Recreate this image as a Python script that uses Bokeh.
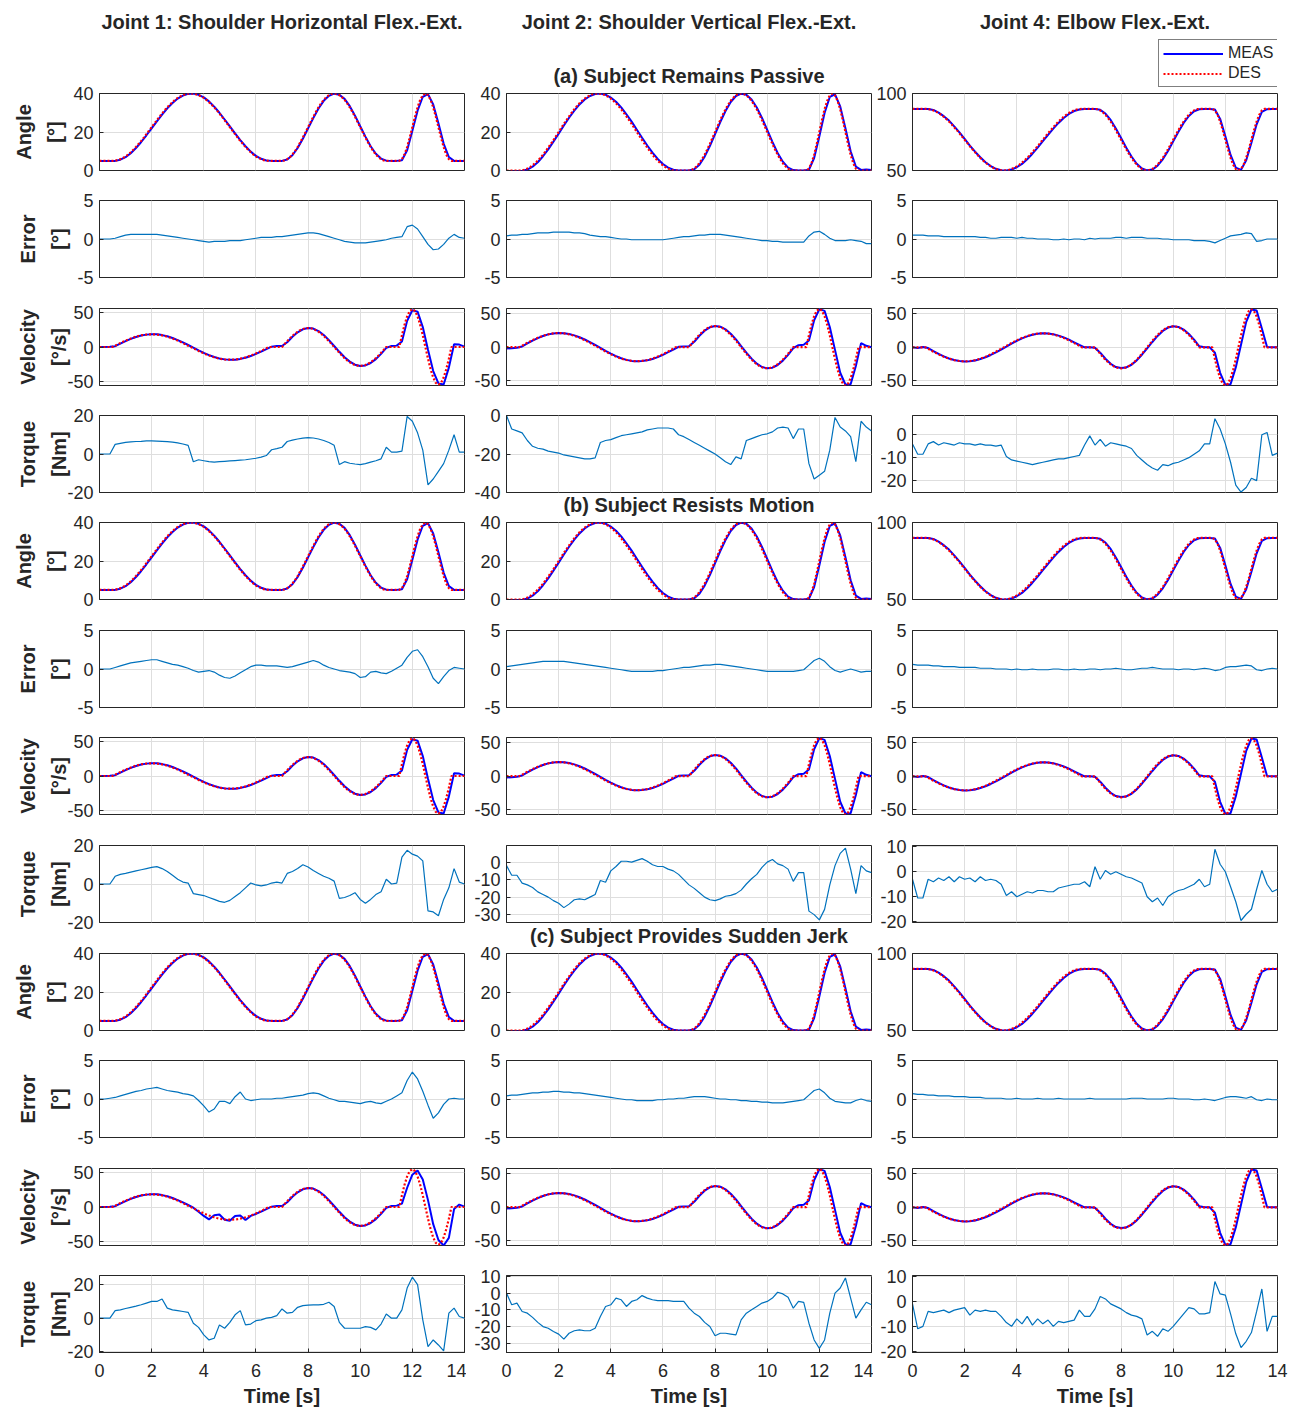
import numpy as np
from bokeh.plotting import figure
from bokeh.layouts import column, row
from bokeh.models import Range1d, FixedTicker, Legend, LegendItem, Title, Label
from bokeh.embed import file_html
from bokeh.resources import INLINE

# ---------------------------------------------------------------- data
# sample times: angle / velocity references every 0.1 s, everything else every 0.2 s
T_FINE = np.round(np.arange(141) * 0.1, 1)
T_COARSE = np.round(np.arange(71) * 0.2, 1)
TIME_TICKS = [0, 2, 4, 6, 8, 10, 12, 14]

JOINT_TITLES = ["Joint 1: Shoulder Horizontal Flex.-Ext.",
                "Joint 2: Shoulder Vertical Flex.-Ext.",
                "Joint 4: Elbow Flex.-Ext."]
CONDITION_TITLES = ["(a) Subject Remains Passive",
                    "(b) Subject Resists Motion",
                    "(c) Subject Provides Sudden Jerk"]
ROW_LABELS = ["Angle\n[°]", "Error\n[°]", "Velocity\n[°/s]", "Torque\n[Nm]"]

# desired joint angles [deg] (0.1 s)
ANG_DES_J1 = [5, 5, 5, 5, 5, 5,
              5.1, 5.4, 5.9, 6.5, 7.3, 8.3, 9.5, 10.8, 12.2, 13.8,
              15.4, 17.1, 18.9, 20.7, 22.5, 24.3, 26.1, 27.9, 29.6, 31.3,
              32.8, 34.2, 35.5, 36.7, 37.7, 38.5, 39.1, 39.6, 39.9, 40.0,
              39.9, 39.6, 39.1, 38.5, 37.7, 36.7, 35.5, 34.2, 32.8, 31.3,
              29.6, 27.9, 26.1, 24.3, 22.5, 20.7, 18.9, 17.1, 15.4, 13.8,
              12.2, 10.8, 9.5, 8.3, 7.3, 6.5, 5.9, 5.4, 5.1, 5.0,
              5, 5, 5, 5, 5,
              5.2, 5.9, 6.9, 8.3, 10.1, 12.2, 14.6, 17.1, 19.8, 22.5,
              25.2, 27.9, 30.4, 32.8, 34.9, 36.7, 38.1, 39.1, 39.8, 40.0,
              39.8, 39.1, 38.1, 36.7, 34.9, 32.8, 30.4, 27.9, 25.2, 22.5,
              19.8, 17.1, 14.6, 12.2, 10.1, 8.3, 6.9, 5.9, 5.2, 5.0,
              5, 5, 5, 5, 5,
              5.9, 8.3, 12.2, 17.1, 22.5, 27.9, 32.8, 36.7, 39.1, 40.0,
              39.1, 36.7, 32.8, 27.9, 22.5, 17.1, 12.2, 8.3, 5.9, 5.0,
              5, 5, 5, 5, 5]
ANG_DES_J2 = [0, 0, 0, 0, 0, 0,
              0.1, 0.4, 1.0, 1.7, 2.7, 3.8, 5.1, 6.6, 8.2, 10.0,
              11.9, 13.8, 15.8, 17.9, 20.0, 22.1, 24.2, 26.2, 28.1, 30.0,
              31.8, 33.4, 34.9, 36.2, 37.3, 38.3, 39.0, 39.6, 39.9, 40.0,
              39.9, 39.6, 39.0, 38.3, 37.3, 36.2, 34.9, 33.4, 31.8, 30.0,
              28.1, 26.2, 24.2, 22.1, 20.0, 17.9, 15.8, 13.8, 11.9, 10.0,
              8.2, 6.6, 5.1, 3.8, 2.7, 1.7, 1.0, 0.4, 0.1, 0.0,
              0, 0, 0, 0, 0,
              0.2, 1.0, 2.2, 3.8, 5.9, 8.2, 10.9, 13.8, 16.9, 20.0,
              23.1, 26.2, 29.1, 31.8, 34.1, 36.2, 37.8, 39.0, 39.8, 40.0,
              39.8, 39.0, 37.8, 36.2, 34.1, 31.8, 29.1, 26.2, 23.1, 20.0,
              16.9, 13.8, 10.9, 8.2, 5.9, 3.8, 2.2, 1.0, 0.2, 0.0,
              0, 0, 0, 0, 0,
              1.0, 3.8, 8.2, 13.8, 20.0, 26.2, 31.8, 36.2, 39.0, 40.0,
              39.0, 36.2, 31.8, 26.2, 20.0, 13.8, 8.2, 3.8, 1.0, 0.0,
              0, 0, 0, 0, 0]
ANG_DES_J4 = [90, 90, 90, 90, 90, 90,
              89.9, 89.6, 89.0, 88.3, 87.3, 86.2, 84.9, 83.4, 81.8, 80.0,
              78.1, 76.2, 74.2, 72.1, 70.0, 67.9, 65.8, 63.8, 61.9, 60.0,
              58.2, 56.6, 55.1, 53.8, 52.7, 51.7, 51.0, 50.4, 50.1, 50.0,
              50.1, 50.4, 51.0, 51.7, 52.7, 53.8, 55.1, 56.6, 58.2, 60.0,
              61.9, 63.8, 65.8, 67.9, 70.0, 72.1, 74.2, 76.2, 78.1, 80.0,
              81.8, 83.4, 84.9, 86.2, 87.3, 88.3, 89.0, 89.6, 89.9, 90.0,
              90, 90, 90, 90, 90,
              89.8, 89.0, 87.8, 86.2, 84.1, 81.8, 79.1, 76.2, 73.1, 70.0,
              66.9, 63.8, 60.9, 58.2, 55.9, 53.8, 52.2, 51.0, 50.2, 50.0,
              50.2, 51.0, 52.2, 53.8, 55.9, 58.2, 60.9, 63.8, 66.9, 70.0,
              73.1, 76.2, 79.1, 81.8, 84.1, 86.2, 87.8, 89.0, 89.8, 90.0,
              90, 90, 90, 90, 90,
              89.0, 86.2, 81.8, 76.2, 70.0, 63.8, 58.2, 53.8, 51.0, 50.0,
              51.0, 53.8, 58.2, 63.8, 70.0, 76.2, 81.8, 86.2, 89.0, 90.0,
              90, 90, 90, 90, 90]

# measured joint angles [deg] (0.2 s)
ANG_MEAS_J1 = [5.0, 5.0, 5.0, 5.0, 5.6, 6.9, 9.0, 11.7, 14.8, 18.3,
               21.9, 25.5, 29.0, 32.3, 35.1, 37.4, 38.9, 39.8, 40.0, 39.3,
               38.0, 35.9, 33.2, 30.0, 26.5, 22.9, 19.3, 15.8, 12.6, 9.8,
               7.6, 6.1, 5.2, 5.0, 5.0, 5.0, 5.7, 7.9, 11.7, 16.5,
               21.9, 27.2, 32.2, 36.2, 38.8, 39.9, 39.4, 37.2, 33.4, 28.5,
               23.0, 17.6, 12.6, 8.7, 6.2, 5.1, 5.0, 5.0, 5.3, 10.5,
               20.6, 31.1, 38.3, 39.7, 34.3, 24.5, 14.0, 7.0, 5.0, 5.0,
               5.0]
ANG_MEAS_J2 = [-0.5, -0.5, -0.4, -0.3, 0.5, 2.0, 4.3, 7.4, 11.0, 15.0,
               19.1, 23.4, 27.4, 31.1, 34.3, 36.9, 38.7, 39.7, 40.0, 39.4,
               37.9, 35.7, 32.8, 29.2, 25.4, 21.2, 17.0, 13.0, 9.3, 6.0,
               3.4, 1.5, 0.4, 0.0, 0.0, 0.0, 0.6, 3.0, 7.2, 12.7,
               18.9, 25.2, 30.9, 35.6, 38.7, 39.9, 39.4, 36.9, 32.7, 27.3,
               21.1, 14.9, 9.1, 4.6, 1.5, 0.2, 0.0, 0.0, 0.4, 6.5,
               17.8, 29.9, 38.2, 39.6, 33.3, 22.0, 10.0, 2.0, 0.3, 0.5,
               0.2]
ANG_MEAS_J4 = [90.0, 90.0, 90.0, 90.0, 89.3, 87.6, 85.3, 82.4, 78.7, 74.7,
               70.5, 66.2, 62.2, 58.6, 55.4, 52.9, 51.1, 50.2, 50.0, 50.6,
               52.1, 54.3, 57.3, 60.9, 64.8, 69.0, 73.2, 77.2, 80.9, 84.1,
               86.7, 88.6, 89.6, 90.0, 90.0, 90.0, 89.4, 87.0, 82.8, 77.3,
               71.1, 64.8, 59.1, 54.4, 51.3, 50.1, 50.6, 53.1, 57.3, 62.7,
               68.9, 75.1, 80.9, 85.4, 88.5, 89.8, 90.0, 90.0, 89.6, 83.5,
               72.2, 60.1, 51.8, 50.4, 56.7, 68.0, 80.0, 88.0, 89.8, 90.0,
               90.0]

# desired joint velocities [deg/s] (0.1 s)
VEL_DES_J1 = [0, 0, 0, 0, 0, 0,
              1.9, 3.8, 5.7, 7.5, 9.3, 10.9, 12.4, 13.7, 15.0, 16.0,
              16.9, 17.6, 18.1, 18.4, 18.5, 18.4, 18.1, 17.6, 16.9, 16.0,
              15.0, 13.7, 12.4, 10.9, 9.3, 7.5, 5.7, 3.8, 1.9, 0,
              -1.9, -3.8, -5.7, -7.5, -9.3, -10.9, -12.4, -13.7, -15.0, -16.0,
              -16.9, -17.6, -18.1, -18.4, -18.5, -18.4, -18.1, -17.6, -16.9, -16.0,
              -15.0, -13.7, -12.4, -10.9, -9.3, -7.5, -5.7, -3.8, -1.9, 0,
              0, 0, 0, 0, 0,
              4.3, 8.5, 12.5, 16.2, 19.4, 22.2, 24.5, 26.2, 27.2, 27.5,
              27.2, 26.2, 24.5, 22.2, 19.4, 16.2, 12.5, 8.5, 4.3, 0,
              -4.3, -8.5, -12.5, -16.2, -19.4, -22.2, -24.5, -26.2, -27.2, -27.5,
              -27.2, -26.2, -24.5, -22.2, -19.4, -16.2, -12.5, -8.5, -4.3, 0,
              0, 0, 0, 0, 0,
              17.0, 32.3, 44.5, 52.3, 55.0, 52.3, 44.5, 32.3, 17.0, 0,
              -17.0, -32.3, -44.5, -52.3, -55.0, -52.3, -44.5, -32.3, -17.0, 0,
              0, 0, 0, 0, 0]
VEL_DES_J2 = [0, 0, 0, 0, 0, 0,
              2.2, 4.3, 6.5, 8.5, 10.5, 12.3, 14.0, 15.5, 16.9, 18.1,
              19.1, 19.9, 20.4, 20.8, 20.9, 20.8, 20.4, 19.9, 19.1, 18.1,
              16.9, 15.5, 14.0, 12.3, 10.5, 8.5, 6.5, 4.3, 2.2, 0,
              -2.2, -4.3, -6.5, -8.5, -10.5, -12.3, -14.0, -15.5, -16.9, -18.1,
              -19.1, -19.9, -20.4, -20.8, -20.9, -20.8, -20.4, -19.9, -19.1, -18.1,
              -16.9, -15.5, -14.0, -12.3, -10.5, -8.5, -6.5, -4.3, -2.2, 0,
              0, 0, 0, 0, 0,
              4.9, 9.7, 14.3, 18.5, 22.2, 25.4, 28.0, 29.9, 31.0, 31.4,
              31.0, 29.9, 28.0, 25.4, 22.2, 18.5, 14.3, 9.7, 4.9, 0,
              -4.9, -9.7, -14.3, -18.5, -22.2, -25.4, -28.0, -29.9, -31.0, -31.4,
              -31.0, -29.9, -28.0, -25.4, -22.2, -18.5, -14.3, -9.7, -4.9, 0,
              0, 0, 0, 0, 0,
              17.6, 33.5, 46.1, 54.2, 57.0, 54.2, 46.1, 33.5, 17.6, 0,
              -17.6, -33.5, -46.1, -54.2, -57.0, -54.2, -46.1, -33.5, -17.6, 0,
              0, 0, 0, 0, 0]
VEL_DES_J4 = [0, 0, 0, 0, 0, 0,
              -2.2, -4.3, -6.5, -8.5, -10.5, -12.3, -14.0, -15.5, -16.9, -18.1,
              -19.1, -19.9, -20.4, -20.8, -20.9, -20.8, -20.4, -19.9, -19.1, -18.1,
              -16.9, -15.5, -14.0, -12.3, -10.5, -8.5, -6.5, -4.3, -2.2, 0,
              2.2, 4.3, 6.5, 8.5, 10.5, 12.3, 14.0, 15.5, 16.9, 18.1,
              19.1, 19.9, 20.4, 20.8, 20.9, 20.8, 20.4, 19.9, 19.1, 18.1,
              16.9, 15.5, 14.0, 12.3, 10.5, 8.5, 6.5, 4.3, 2.2, 0,
              0, 0, 0, 0, 0,
              -4.9, -9.7, -14.3, -18.5, -22.2, -25.4, -28.0, -29.9, -31.0, -31.4,
              -31.0, -29.9, -28.0, -25.4, -22.2, -18.5, -14.3, -9.7, -4.9, 0,
              4.9, 9.7, 14.3, 18.5, 22.2, 25.4, 28.0, 29.9, 31.0, 31.4,
              31.0, 29.9, 28.0, 25.4, 22.2, 18.5, 14.3, 9.7, 4.9, 0,
              0, 0, 0, 0, 0,
              -17.6, -33.5, -46.1, -54.2, -57.0, -54.2, -46.1, -33.5, -17.6, 0,
              17.6, 33.5, 46.1, 54.2, 57.0, 54.2, 46.1, 33.5, 17.6, 0,
              0, 0, 0, 0, 0]

# measured joint velocities [deg/s] (0.2 s)
VEL_MEAS_J1 = [0.0, 0.0, 0.3, 1.2, 4.8, 8.6, 11.9, 14.6, 16.7, 18.0,
               18.6, 18.4, 17.3, 15.6, 13.1, 10.1, 6.6, 2.9, -1.0, -4.8,
               -8.5, -11.8, -14.6, -16.6, -18.0, -18.6, -18.4, -17.3, -15.6, -13.2,
               -10.1, -6.7, -3.0, 0.5, 1.5, 1.5, 7.0, 15.0, 21.4, 25.8,
               27.6, 26.8, 23.2, 17.5, 10.0, 1.5, -7.0, -15.0, -21.3, -25.7,
               -27.7, -26.8, -23.3, -17.6, -10.0, -1.2, 1.5, 2.0, 8.0, 38.0,
               53.5, 51.5, 29.0, -4.0, -35.0, -53.0, -54.5, -30.0, 4.0, 3.5,
               0.5]
VEL_MEAS_J1_JERK = [0.0, 0.0, 0.3, 1.2, 4.8, 8.6, 11.9, 14.6, 16.7, 18.0,
                    18.6, 18.4, 17.3, 15.6, 13.1, 10.1, 6.6, 2.9, -1.0, -7.0,
                    -13.0, -18.0, -12.0, -11.0, -18.5, -20.0, -13.0, -12.5, -19.0, -13.0,
                    -10.1, -6.7, -3.0, 0.5, 1.5, 1.5, 7.0, 15.0, 21.4, 25.8,
                    27.6, 26.8, 23.2, 17.5, 10.0, 1.5, -7.0, -15.0, -21.3, -25.7,
                    -27.7, -26.8, -23.3, -17.6, -10.0, -1.2, 1.5, 2.0, 5.0, 28.0,
                    47.0, 53.0, 40.0, 10.0, -25.0, -48.0, -56.0, -45.0, -3.0, 3.5,
                    0.5]
VEL_MEAS_J2 = [-2.0, -1.5, -1.0, 1.0, 5.5, 9.8, 13.5, 16.6, 19.0, 20.4,
               21.0, 20.7, 19.6, 17.5, 14.8, 11.4, 7.5, 3.3, -1.0, -5.4,
               -9.6, -13.3, -16.4, -18.9, -20.4, -21.0, -20.7, -19.6, -17.5, -14.8,
               -11.4, -7.5, -3.5, 0.5, 1.0, 1.5, 8.0, 17.0, 24.5, 29.5,
               31.5, 30.5, 26.5, 20.0, 11.5, 1.5, -8.0, -17.0, -24.5, -29.5,
               -31.5, -30.5, -26.5, -20.0, -11.5, -1.5, 3.0, 3.5, 10.0, 40.0,
               56.5, 54.0, 30.0, -4.0, -38.0, -55.5, -55.0, -28.0, 6.0, 2.0,
               0.0]
VEL_MEAS_J4 = [0.0, -1.0, 0.5, -1.0, -5.5, -9.8, -13.5, -16.6, -19.0, -20.4,
               -21.0, -20.7, -19.6, -17.5, -14.8, -11.4, -7.5, -3.3, 1.0, 5.4,
               9.6, 13.3, 16.4, 18.9, 20.4, 21.0, 20.7, 19.6, 17.5, 14.8,
               11.4, 7.5, 3.5, 0.0, 0.0, -0.5, -8.0, -17.0, -24.5, -29.5,
               -31.0, -30.0, -26.0, -19.5, -11.0, -1.5, 8.0, 17.0, 24.5, 29.5,
               31.5, 30.5, 26.5, 20.0, 11.5, 1.5, 0.0, 0.0, -8.0, -38.0,
               -56.0, -55.0, -30.0, 4.0, 38.0, 56.5, 55.0, 28.0, 0.5, 0.0,
               0.0]

# tracking errors [deg] (0.2 s)
ERR_A1 = [0.0, 0.0, 0.0, 0.1, 0.3, 0.5, 0.6, 0.6, 0.6, 0.6,
          0.6, 0.6, 0.5, 0.4, 0.3, 0.2, 0.1, 0.0, -0.1, -0.2,
          -0.3, -0.4, -0.3, -0.3, -0.3, -0.2, -0.2, -0.2, -0.1, 0.0,
          0.1, 0.2, 0.2, 0.2, 0.3, 0.3, 0.4, 0.5, 0.6, 0.7,
          0.8, 0.8, 0.7, 0.5, 0.3, 0.1, -0.1, -0.3, -0.4, -0.5,
          -0.5, -0.5, -0.4, -0.3, -0.2, -0.1, 0.1, 0.2, 0.3, 1.6,
          1.8, 1.3, 0.3, -0.7, -1.4, -1.3, -0.7, 0.1, 0.6, 0.2,
          0.1]
ERR_A2 = [0.4, 0.5, 0.5, 0.6, 0.6, 0.7, 0.8, 0.8, 0.8, 0.9,
          0.9, 0.9, 0.9, 0.8, 0.8, 0.7, 0.5, 0.4, 0.3, 0.3,
          0.2, 0.1, 0.0, 0.0, -0.1, -0.1, -0.1, -0.1, -0.1, -0.1,
          -0.1, 0.0, 0.1, 0.2, 0.3, 0.3, 0.4, 0.5, 0.5, 0.6,
          0.6, 0.6, 0.5, 0.4, 0.3, 0.2, 0.1, 0.0, -0.1, -0.2,
          -0.2, -0.3, -0.3, -0.4, -0.4, -0.4, -0.4, -0.4, 0.4, 0.9,
          1.0, 0.6, 0.1, -0.2, -0.2, -0.2, -0.1, -0.2, -0.3, -0.6,
          -0.6]
ERR_A4 = [0.5, 0.5, 0.5, 0.4, 0.4, 0.4, 0.3, 0.3, 0.3, 0.3,
          0.3, 0.3, 0.3, 0.2, 0.2, 0.1, 0.1, 0.2, 0.2, 0.2,
          0.1, 0.2, 0.1, 0.1, 0.0, 0.0, 0.0, -0.1, -0.1, 0.0,
          -0.1, 0.0, 0.0, -0.1, 0.1, 0.0, 0.1, 0.1, 0.1, 0.2,
          0.2, 0.1, 0.2, 0.2, 0.2, 0.1, 0.1, 0.1, 0.0, 0.0,
          -0.1, -0.1, -0.1, -0.1, -0.2, -0.2, -0.2, -0.3, -0.5, -0.2,
          0.1, 0.4, 0.5, 0.6, 0.8, 0.7, -0.3, -0.2, 0.0, 0.0,
          0.0]
ERR_B1 = [0.0, 0.0, 0.0, 0.2, 0.4, 0.6, 0.8, 0.9, 1.0, 1.1,
          1.2, 1.2, 1.0, 0.8, 0.6, 0.5, 0.3, 0.1, -0.2, -0.4,
          -0.3, -0.2, -0.4, -0.8, -1.1, -1.2, -0.9, -0.5, -0.1, 0.3,
          0.5, 0.5, 0.4, 0.4, 0.4, 0.3, 0.2, 0.3, 0.5, 0.7,
          0.9, 1.1, 0.9, 0.5, 0.2, 0.0, -0.2, -0.3, -0.4, -0.6,
          -1.1, -1.0, -0.4, -0.3, -0.5, -0.6, -0.3, 0.1, 0.5, 1.5,
          2.3, 2.5, 1.6, 0.3, -1.2, -1.9, -1.0, -0.2, 0.2, 0.1,
          0.0]
ERR_B2 = [0.3, 0.4, 0.5, 0.6, 0.7, 0.8, 0.9, 1.0, 1.0, 1.0,
          1.0, 1.0, 0.9, 0.8, 0.7, 0.6, 0.5, 0.4, 0.3, 0.2,
          0.1, 0.0, -0.1, -0.2, -0.3, -0.3, -0.3, -0.3, -0.3, -0.2,
          -0.2, -0.1, 0.0, 0.1, 0.2, 0.2, 0.3, 0.4, 0.5, 0.5,
          0.6, 0.6, 0.5, 0.4, 0.3, 0.2, 0.1, 0.0, -0.1, -0.2,
          -0.3, -0.3, -0.3, -0.3, -0.3, -0.3, -0.2, -0.1, 0.5, 1.1,
          1.4, 1.0, 0.3, -0.2, -0.4, -0.2, 0.0, -0.2, -0.4, -0.3,
          -0.3]
ERR_B4 = [0.6, 0.5, 0.5, 0.5, 0.4, 0.4, 0.3, 0.3, 0.3, 0.2,
          0.2, 0.2, 0.2, 0.1, 0.1, 0.1, 0.0, 0.0, 0.0, -0.1,
          0.0, -0.1, -0.1, 0.0, -0.1, -0.1, -0.1, 0.0, 0.0, -0.1,
          -0.1, 0.0, -0.1, -0.1, 0.0, 0.0, -0.1, 0.0, 0.0, 0.1,
          0.0, -0.1, -0.1, 0.0, 0.1, 0.1, 0.2, 0.1, 0.0, 0.0,
          0.0, -0.1, 0.0, 0.0, -0.1, 0.0, 0.1, 0.0, -0.2, -0.1,
          0.2, 0.3, 0.3, 0.4, 0.5, 0.4, -0.1, -0.2, 0.0, 0.1,
          0.0]
ERR_C1 = [0.0, 0.0, 0.1, 0.2, 0.4, 0.6, 0.8, 1.0, 1.1, 1.3,
          1.4, 1.5, 1.3, 1.1, 1.0, 0.9, 0.7, 0.6, 0.4, -0.2,
          -0.9, -1.7, -1.3, -0.3, -0.3, -0.6, 0.3, 0.9, 0.0, -0.2,
          -0.1, 0.0, 0.0, 0.0, 0.1, 0.1, 0.2, 0.3, 0.4, 0.5,
          0.7, 0.8, 0.7, 0.4, 0.1, -0.1, -0.3, -0.3, -0.4, -0.5,
          -0.6, -0.4, -0.3, -0.5, -0.6, -0.3, 0.0, 0.4, 0.8, 2.4,
          3.5, 2.6, 1.0, -0.8, -2.5, -1.8, -0.7, 0.0, 0.1, 0.0,
          0.0]
ERR_C2 = [0.4, 0.5, 0.5, 0.6, 0.7, 0.8, 0.8, 0.9, 0.9, 1.0,
          1.0, 0.9, 0.9, 0.8, 0.8, 0.7, 0.6, 0.5, 0.4, 0.3,
          0.2, 0.1, 0.0, -0.1, -0.1, -0.2, -0.2, -0.2, -0.2, -0.1,
          -0.1, 0.0, 0.0, 0.1, 0.1, 0.2, 0.3, 0.3, 0.3, 0.2,
          0.1, 0.0, 0.0, -0.1, -0.1, -0.2, -0.2, -0.3, -0.3, -0.4,
          -0.4, -0.5, -0.5, -0.5, -0.4, -0.3, -0.2, -0.1, 0.5, 1.1,
          1.3, 0.8, 0.1, -0.3, -0.4, -0.5, -0.5, -0.2, 0.0, -0.2,
          -0.3]
ERR_C4 = [0.7, 0.6, 0.6, 0.5, 0.5, 0.4, 0.4, 0.4, 0.3, 0.3,
          0.3, 0.2, 0.2, 0.2, 0.1, 0.1, 0.1, 0.1, 0.0, 0.0,
          0.1, 0.0, 0.0, 0.0, 0.1, 0.0, 0.0, 0.0, 0.1, 0.0,
          0.0, 0.0, 0.0, 0.0, 0.1, 0.0, 0.0, 0.0, 0.0, 0.0,
          0.0, 0.0, 0.1, 0.1, 0.1, 0.0, 0.0, 0.0, 0.0, 0.1,
          0.1, 0.0, 0.0, 0.0, -0.1, -0.1, 0.0, -0.1, -0.2, 0.0,
          0.2, 0.3, 0.3, 0.2, 0.1, 0.3, -0.1, -0.2, 0.0, -0.1,
          -0.1]

# interaction torques [Nm] (0.2 s)
TRQ_A1 = [0.0, 0.0, 0.0, 5.0, 5.5, 6.0, 6.3, 6.5, 6.6, 6.8,
          6.8, 6.7, 6.6, 6.4, 6.2, 5.8, 5.2, 4.5, -4.0, -3.0,
          -3.5, -4.0, -4.2, -4.0, -3.8, -3.6, -3.4, -3.2, -3.0, -2.6,
          -2.2, -1.6, -0.8, 2.2, 2.8, 3.5, 6.5, 7.2, 7.8, 8.2,
          8.5, 8.3, 7.8, 7.0, 6.0, 4.5, -5.5, -4.0, -4.8, -5.2,
          -5.5, -5.0, -4.2, -3.5, -2.5, 3.5, 1.0, 1.0, 1.5, 19.5,
          17.0, 11.0, 2.0, -16.0, -13.0, -9.0, -5.0, 2.0, 10.0, 1.0,
          1.0]
TRQ_A2 = [0.0, -7.0, -8.0, -9.0, -13.0, -16.0, -17.0, -17.5, -18.5, -19.0,
          -19.5, -20.5, -21.0, -21.5, -22.0, -22.5, -22.5, -22.0, -14.0, -13.0,
          -12.5, -11.5, -10.5, -10.0, -9.5, -9.0, -8.5, -7.5, -7.0, -6.5,
          -6.5, -6.5, -7.0, -10.0, -11.0, -12.5, -14.0, -15.5, -17.0, -18.5,
          -20.0, -22.0, -24.0, -25.5, -21.5, -22.5, -13.0, -12.0, -11.0, -10.0,
          -9.5, -8.5, -6.5, -6.0, -6.5, -12.0, -7.0, -7.0, -25.0, -33.0,
          -31.0, -29.0, -18.0, -1.0, -6.0, -8.0, -11.0, -24.0, -3.0, -6.0,
          -8.0]
TRQ_A4 = [-4.0, -8.5, -8.5, -4.0, -3.0, -4.5, -3.5, -4.0, -4.5, -3.5,
          -4.0, -4.0, -4.5, -4.0, -4.5, -4.5, -5.0, -4.5, -9.5, -11.0,
          -11.5, -12.0, -12.5, -13.0, -12.5, -12.0, -11.5, -11.0, -10.5, -10.5,
          -10.0, -9.5, -9.0, -4.5, -0.5, -4.5, -2.0, -5.0, -3.5, -4.0,
          -4.5, -5.0, -6.0, -9.0, -11.0, -13.0, -14.5, -15.5, -13.0, -13.5,
          -12.5, -12.0, -11.0, -10.0, -8.5, -7.0, -4.0, -4.0, 7.0, 2.5,
          -4.0, -12.0, -22.0, -25.0, -23.0, -19.0, -20.0, 0.0, 1.0, -9.0,
          -8.0]
TRQ_B1 = [0.0, 0.0, 0.0, 4.0, 5.0, 5.5, 6.2, 6.8, 7.4, 8.0,
          8.6, 9.0, 8.0, 6.5, 4.5, 2.5, 1.0, 0.5, -5.0, -5.5,
          -6.0, -7.0, -8.0, -9.0, -9.5, -8.5, -6.5, -4.5, -2.0, 0.5,
          -0.5, -1.0, -0.5, 0.5, 1.0, 0.5, 5.5, 6.5, 8.0, 10.0,
          8.8, 7.0, 5.5, 4.0, 3.0, 1.5, -7.5, -7.0, -6.0, -4.5,
          -8.0, -10.0, -8.0, -5.5, -4.0, 2.5, 0.0, 0.5, 14.0, 17.5,
          15.5, 14.5, 12.0, -14.0, -14.5, -16.5, -8.0, -2.0, 8.0, 1.0,
          0.0]
TRQ_B2 = [-2.0, -7.5, -7.5, -12.0, -13.0, -14.5, -17.0, -18.5, -20.0, -22.0,
          -23.5, -26.0, -24.0, -21.5, -21.0, -21.5, -20.0, -18.5, -10.5, -11.5,
          -5.0, -2.5, 0.5, 0.5, 0.0, 1.0, 2.0, 0.5, -1.5, -2.5,
          -2.5, -4.0, -5.0, -7.0, -10.0, -13.0, -15.0, -17.5, -20.0, -21.5,
          -22.0, -21.0, -19.5, -19.0, -18.0, -16.0, -12.5, -9.5, -7.0, -3.0,
          0.0, 1.5, -1.0, -2.0, -4.0, -11.0, -6.0, -6.0, -28.0, -30.0,
          -33.0, -27.0, -13.0, -2.0, 5.0, 8.0, -4.0, -18.0, -2.0, -5.0,
          -6.0]
TRQ_B4 = [-3.0, -10.5, -10.5, -3.0, -4.0, -2.5, -3.5, -2.0, -4.0, -2.0,
          -3.0, -2.5, -4.0, -2.0, -3.5, -3.0, -3.5, -5.0, -9.5, -8.0,
          -10.0, -9.0, -8.0, -8.5, -7.5, -7.5, -8.0, -8.0, -6.5, -6.0,
          -5.5, -5.0, -5.0, -4.0, -6.0, 2.0, -3.0, 0.5, -1.0, 0.0,
          -1.0, -2.0, -2.5, -3.5, -4.5, -10.0, -12.0, -10.5, -13.5, -10.0,
          -8.5, -7.5, -7.0, -6.0, -5.0, -3.0, -6.0, -5.0, 9.0, 3.0,
          0.0, -6.0, -12.0, -19.5, -17.0, -15.0, -7.0, 0.5, -5.0, -8.0,
          -7.0]
TRQ_C1 = [0.0, 0.0, 0.0, 4.5, 5.0, 5.8, 6.5, 7.2, 8.0, 9.0,
          10.0, 10.0, 11.5, 6.0, 5.0, 4.5, 4.0, 3.5, -3.0, -5.5,
          -10.0, -13.0, -12.0, -4.0, -6.0, -2.5, 2.0, 4.5, -4.0, -3.5,
          -1.5, -1.0, 0.0, 0.5, 1.5, 5.5, 3.0, 3.5, 6.5, 7.5,
          7.8, 8.0, 8.0, 8.3, 9.5, 7.0, -2.5, -6.0, -6.0, -6.0,
          -6.0, -5.0, -5.5, -7.0, -3.5, 2.5, 0.0, 0.0, 5.0, 18.0,
          24.5, 20.0, -1.0, -17.0, -13.0, -16.0, -19.5, 3.0, 6.0, 1.0,
          0.0]
TRQ_C2 = [0.0, -7.0, -6.0, -11.0, -12.0, -14.5, -17.5, -20.0, -21.0, -23.0,
          -24.5, -27.5, -24.0, -22.5, -22.0, -22.5, -22.5, -21.0, -14.0, -8.0,
          -7.0, -3.0, -4.0, -8.0, -5.0, -4.0, -1.5, -3.0, -4.0, -4.5,
          -4.5, -4.5, -5.0, -5.0, -5.0, -9.0, -12.0, -14.0, -17.5, -20.0,
          -25.5, -24.0, -24.0, -24.5, -25.0, -16.0, -12.0, -10.0, -8.0, -6.0,
          -5.0, -3.0, 0.5, -0.5, -2.5, -9.0, -5.0, -5.5, -18.0, -28.0,
          -33.0, -28.0, -12.0, 0.0, 3.0, 9.0, -3.0, -15.0, -10.0, -5.5,
          -7.0]
TRQ_C4 = [-1.0, -11.0, -10.0, -4.0, -4.5, -4.0, -3.5, -4.5, -3.5, -3.0,
          -2.5, -5.5, -3.5, -4.0, -3.5, -4.0, -4.0, -6.0, -8.5, -10.0,
          -7.0, -9.0, -6.0, -9.5, -7.0, -9.0, -7.5, -10.0, -8.0, -8.5,
          -8.0, -7.5, -3.5, -6.0, -6.0, -3.0, 2.0, 1.0, -1.0, -2.0,
          -3.0, -4.5, -5.5, -6.0, -7.0, -13.5, -12.0, -14.0, -11.0, -12.0,
          -10.0, -7.5, -5.0, -2.5, -3.0, -5.0, -5.0, -4.5, 8.0, 3.0,
          2.5, -5.0, -13.0, -18.5, -16.0, -12.5, -4.0, 5.0, -12.0, -6.0,
          -6.0]

ANGLE_DES = [ANG_DES_J1, ANG_DES_J2, ANG_DES_J4]
ANGLE_MEAS = [ANG_MEAS_J1, ANG_MEAS_J2, ANG_MEAS_J4]
VEL_DES = [VEL_DES_J1, VEL_DES_J2, VEL_DES_J4]
VEL_MEAS = [[VEL_MEAS_J1, VEL_MEAS_J2, VEL_MEAS_J4],
            [VEL_MEAS_J1, VEL_MEAS_J2, VEL_MEAS_J4],
            [VEL_MEAS_J1_JERK, VEL_MEAS_J2, VEL_MEAS_J4]]
ERRORS = [[ERR_A1, ERR_A2, ERR_A4], [ERR_B1, ERR_B2, ERR_B4], [ERR_C1, ERR_C2, ERR_C4]]
TORQUES = [[TRQ_A1, TRQ_A2, TRQ_A4], [TRQ_B1, TRQ_B2, TRQ_B4], [TRQ_C1, TRQ_C2, TRQ_C4]]

for arr in ANGLE_DES + VEL_DES:
    assert len(arr) == len(T_FINE), len(arr)
for arr in ANGLE_MEAS + sum(VEL_MEAS, []) + sum(ERRORS, []) + sum(TORQUES, []):
    assert len(arr) == len(T_COARSE), len(arr)

# axis limits and ticks per panel
ANGLE_LIMITS = [(0, 40, [0, 20, 40]), (0, 40, [0, 20, 40]), (50, 100, [50, 100])]
ERROR_LIMITS = (-5, 5, [-5, 0, 5])
VEL_LIMITS = [(-56, 56, [-50, 0, 50]), (-57, 57.5, [-50, 0, 50]), (-57, 58, [-50, 0, 50])]
TORQUE_LIMITS = [
    [(-20, 20, [-20, 0, 20]), (-40, 0, [-40, -20, 0]), (-25.2, 8.4, [-20, -10, 0])],
    [(-20, 20, [-20, 0, 20]), (-34.5, 9.5, [-30, -20, -10, 0]), (-20.3, 10.5, [-20, -10, 0, 10])],
    [(-20.5, 25.5, [-20, 0, 20]), (-35.5, 10.5, [-30, -20, -10, 0, 10]), (-20.5, 10.4, [-20, -10, 0, 10])],
]

# ---------------------------------------------------------------- style / layout
FONT = "Liberation Sans"
INK = "#262626"
GRID = "#dedede"
MEAS_COLOR = "#0000ff"
DES_COLOR = "#ff0000"
TRACE_COLOR = "#0072bd"

FRAME_W, FRAME_H = 365, 77
COL_BORDERS = [(99, 2), (40, 2), (39, 20)]            # (left, right)
FRAME_TOPS = [93, 200, 308, 415, 522, 630, 737, 845, 953, 1060, 1168, 1275]
N_ROWS = len(FRAME_TOPS)
HEADER_H = 90                 # strip that carries the column titles and the legend
EDGE = 12                     # room for tick labels above / below a frame
TITLE_BORDER = 40             # top border of a row that carries a condition title
TITLE_ROWS = (4, 8)
LAST_BOTTOM = 60
TEXT_H = 23                   # height of a 20px bold text line


def clean(p):
    p.toolbar_location = None
    p.background_fill_color = "white"
    p.border_fill_color = None
    p.border_fill_alpha = 0.0


def header_strip(c):
    left, right = COL_BORDERS[c]
    b = figure(width=left + FRAME_W + right, height=HEADER_H,
               x_range=Range1d(0, 14), y_range=Range1d(HEADER_H, 0), title=None,
               min_border_left=left, min_border_right=right,
               min_border_top=0, min_border_bottom=0,
               x_axis_location=None, y_axis_location=None,
               toolbar_location=None, tools="", output_backend="svg")
    clean(b)
    b.background_fill_alpha = 0.0
    b.outline_line_color = None
    b.xgrid.visible = False
    b.ygrid.visible = False
    b.add_layout(Label(x=7, y=21, text=JOINT_TITLES[c], text_align="center",
                       text_baseline="middle", text_font=FONT, text_font_style="bold",
                       text_font_size="20px", text_color=INK))
    if c == 1:
        b.add_layout(Label(x=7, y=75, text=CONDITION_TITLES[0], text_align="center",
                           text_baseline="middle", text_font=FONT, text_font_style="bold",
                           text_font_size="20px", text_color=INK))
    if c == 2:
        # the legend describes the joint-4 angle traces; they are drawn in the panel
        # below, so the copies kept here only feed the legend
        meas = b.line(T_COARSE, ANGLE_MEAS[2], line_color=MEAS_COLOR, line_width=2,
                      visible=False)
        des = b.line(T_FINE, ANGLE_DES[2], line_color=DES_COLOR, line_width=2.2,
                     line_dash="2 2", visible=False)
        legend = Legend(items=[LegendItem(label="MEAS", renderers=[meas]),
                               LegendItem(label="DES", renderers=[des])],
                        location=(246, 3), orientation="vertical",
                        glyph_width=60, glyph_height=17, label_height=17,
                        label_standoff=5, padding=4, spacing=2, margin=0,
                        label_text_font=FONT, label_text_font_size="16px",
                        label_text_color=INK, border_line_color="#000000",
                        border_line_width=1, background_fill_color="white",
                        background_fill_alpha=1.0, click_policy="none")
        b.add_layout(legend)
    return b


def panel_geometry(r):
    top = TITLE_BORDER if r in TITLE_ROWS else EDGE
    bottom = LAST_BOTTOM if r == N_ROWS - 1 else EDGE
    prev_bottom = HEADER_H if r == 0 else FRAME_TOPS[r - 1] + FRAME_H + EDGE
    margin = (FRAME_TOPS[r] - top) - prev_bottom
    return top, bottom, margin


def make_panel(r, c, lo, hi, ticks):
    left, right = COL_BORDERS[c]
    top, bottom, margin = panel_geometry(r)
    p = figure(width=left + FRAME_W + right, height=top + FRAME_H + bottom,
               x_range=Range1d(0, 14), y_range=Range1d(lo, hi), title=None,
               min_border_left=left, min_border_right=right,
               min_border_top=top, min_border_bottom=bottom,
               margin=(margin, 0, 0, 0),
               toolbar_location=None, tools="", output_backend="svg")
    clean(p)
    p.outline_line_color = INK
    p.outline_line_width = 1

    p.xgrid.ticker = FixedTicker(ticks=TIME_TICKS)
    p.ygrid.ticker = FixedTicker(ticks=ticks)
    for g in (p.xgrid[0], p.ygrid[0]):
        g.grid_line_color = GRID
        g.grid_line_width = 1

    yax = p.yaxis[0]
    yax.ticker = FixedTicker(ticks=ticks)
    yax.major_label_overrides = {t: str(t) for t in ticks}
    yax.major_label_text_font = FONT
    yax.major_label_text_font_size = "18px"
    yax.major_label_text_color = INK
    yax.axis_line_color = INK
    yax.major_tick_line_color = INK
    yax.major_tick_in = 4
    yax.major_tick_out = 0
    yax.minor_tick_line_color = None
    yax.major_label_standoff = 6
    if c == 0:
        q = r % 4
        yax.axis_label = ROW_LABELS[q]
        yax.axis_label_text_font = FONT
        yax.axis_label_text_font_style = "bold"
        yax.axis_label_text_font_size = "20px"
        yax.axis_label_text_color = INK
        yax.axis_label_text_line_height = 1.45
        yax.axis_label_standoff = -6 if q >= 2 else 4

    xax = p.xaxis[0]
    xax.ticker = FixedTicker(ticks=TIME_TICKS)
    if r == N_ROWS - 1:
        xax.major_label_text_font = FONT
        xax.major_label_text_font_size = "18px"
        xax.major_label_text_color = INK
        xax.axis_line_color = INK
        xax.major_tick_line_color = INK
        xax.major_tick_in = 4
        xax.major_tick_out = 0
        xax.minor_tick_line_color = None
        xax.major_label_standoff = 11
        xax.axis_label = "Time [s]"
        xax.axis_label_text_font = FONT
        xax.axis_label_text_font_style = "bold"
        xax.axis_label_text_font_size = "20px"
        xax.axis_label_text_color = INK
        xax.axis_label_standoff = 5
    else:
        xax.visible = False
    return p


strips = [row([header_strip(c) for c in range(3)], spacing=0)]
for k in range(3):
    for q in range(4):
        r = 4 * k + q
        row_figs = []
        for c in range(3):
            if q == 0:
                lo, hi, ticks = ANGLE_LIMITS[c]
            elif q == 1:
                lo, hi, ticks = ERROR_LIMITS
            elif q == 2:
                lo, hi, ticks = VEL_LIMITS[c]
            else:
                lo, hi, ticks = TORQUE_LIMITS[k][c]
            p = make_panel(r, c, lo, hi, ticks)

            if q == 0:
                p.line(T_COARSE, ANGLE_MEAS[c], line_color=MEAS_COLOR, line_width=2)
                p.line(T_FINE, ANGLE_DES[c], line_color=DES_COLOR, line_width=2.2,
                       line_dash="2 2")
                if k > 0 and c == 1:
                    p.add_layout(Title(text=CONDITION_TITLES[k], align="center",
                                       vertical_align="middle",
                                       standoff=36 - 2 - TEXT_H, text_font=FONT,
                                       text_font_style="bold", text_font_size="20px",
                                       text_color=INK), "above")
            elif q == 1:
                p.line(T_COARSE, ERRORS[k][c], line_color=TRACE_COLOR, line_width=1.2)
            elif q == 2:
                p.line(T_COARSE, VEL_MEAS[k][c], line_color=MEAS_COLOR, line_width=2)
                p.line(T_FINE, VEL_DES[c], line_color=DES_COLOR, line_width=2.2,
                       line_dash="2 2")
            else:
                p.line(T_COARSE, TORQUES[k][c], line_color=TRACE_COLOR, line_width=1.2)
            row_figs.append(p)
        strips.append(row(row_figs, spacing=0))

layout = column(strips, spacing=0)
open("out.html", "w").write(file_html(layout, INLINE))
